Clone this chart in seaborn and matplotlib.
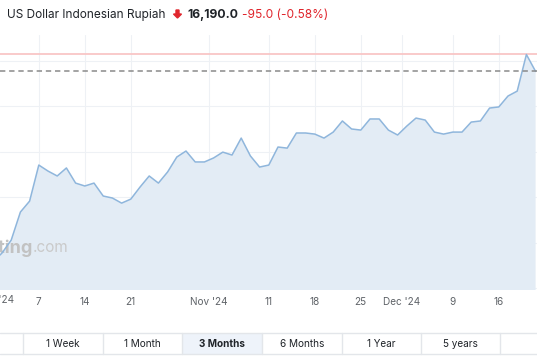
import numpy as np
import pandas as pd
import seaborn as sns
import matplotlib.pyplot as plt
from matplotlib.patches import FancyArrow, Rectangle
from matplotlib.lines import Line2D

# USD/IDR daily close, trading days 30 Sep 2024 .. 20 Dec 2024
dates = pd.bdate_range("2024-09-30", "2024-12-20")
close = [
    15145,                                   # Sep 30
    15193, 15264, 15418, 15478,              # Oct 1-4
    15676, 15643, 15616, 15660, 15577,       # Oct 7-11
    15561, 15577, 15506, 15495, 15467,       # Oct 14-18
    15489, 15555, 15616, 15577, 15638,       # Oct 21-25
    15720, 15753, 15693, 15693, 15715,       # Oct 28 - Nov 1
    15747, 15731, 15824, 15726, 15665,       # Nov 4-8
    15676, 15775, 15769, 15852, 15852,       # Nov 11-15
    15846, 15824, 15857, 15918, 15874,       # Nov 18-22
    15868, 15929, 15929, 15868, 15841,       # Nov 25-29
    15890, 15934, 15923, 15857, 15846,       # Dec 2-6
    15857, 15857, 15912, 15918, 15989,       # Dec 9-13
    15995, 16055, 16082, 16283, 16190,       # Dec 16-20
]
period_high = 16283
last_close = 16190

tick_dates = ["2024-10-01", "2024-10-07", "2024-10-14", "2024-10-21", "2024-11-01",
              "2024-11-11", "2024-11-18", "2024-11-25", "2024-12-02", "2024-12-09",
              "2024-12-16"]
tick_labels = ["Oct '24", "7", "14", "21", "Nov '24", "11", "18", "25", "Dec '24", "9", "16"]
ranges = ["1 Week", "1 Month", "3 Months", "6 Months", "1 Year", "5 years"]

LINE = "#8fb6dc"
FILL = "#e3ecf5"
GRID = "#eef1f5"
RED = "#e0262d"
TEXT = "#1f2328"
MUTED = "#5f6368"

sns.set_theme(style="white")
plt.rcParams["font.family"] = ["Inter", "DejaVu Sans"]

df = pd.DataFrame({"date": dates, "close": close})
df["idx"] = np.arange(len(df)) - 1  # Oct 1 = 0

W, H = 537, 360
fig = plt.figure(figsize=(W / 100, H / 100), dpi=100, facecolor="white")
ax = fig.add_axes([0, (H - 290) / H, 1, (290 - 35) / H])
ax.set_facecolor("white")

ax.fill_between(df["idx"], df["close"], 14990, color=FILL, zorder=1, lw=0)
sns.lineplot(data=df, x="idx", y="close", ax=ax, color=LINE, lw=1.1, zorder=3)

ax.axhline(period_high, color="#f9c6c6", lw=1.3, zorder=2)
ax.axhline(last_close, color="#8a8a8a", lw=1.1, ls=(0, (3.5, 2.5)), zorder=4)

pos = []
for d, lab in zip(tick_dates, tick_labels):
    i = int(df.index[df["date"] == pd.Timestamp(d)][0]) - 1
    pos.append(i - 0.55 if "'" in lab else i)
ax.set_xticks(pos)
ax.set_xticklabels(tick_labels, fontsize=7.2, color=MUTED)
ax.set_yticks(np.arange(15000, 16400, 250))
ax.set_yticklabels([])
ax.tick_params(axis="x", length=0, pad=5)
ax.tick_params(axis="y", length=0)
ax.grid(True, color=GRID, lw=0.8, zorder=0)
ax.set_axisbelow(True)
ax.set_xlim(-2 / 9.2, 535 / 9.2)
ax.set_ylim(14990, 16390)
ax.set_xlabel("")
ax.set_ylabel("")
for s in ax.spines.values():
    s.set_visible(False)

# first month label sits partly outside the plot
fig.text(-3 / W, 1 - 300 / H, tick_labels[0], ha="center", va="center",
         fontsize=7.2, color=MUTED)

# watermark
wy = (290 - 248) / (290 - 35)
ax.text(33 / W, wy, "Investing", transform=ax.transAxes,
        ha="right", va="center", fontsize=13, weight="bold", color="#c2c2c2", zorder=2)
ax.text(33 / W, wy, ".com", transform=ax.transAxes,
        ha="left", va="center", fontsize=11, color="#cacaca", zorder=2)

# header
ty = 1 - 15 / H
fig.text(7 / W, ty, "US Dollar Indonesian Rupiah", fontsize=8.5, color=TEXT, va="center")
fig.patches.append(FancyArrow(177.5 / W, 1 - 10 / H, 0, -8 / H, width=3 / W, head_width=8 / W,
                              head_length=4 / H, length_includes_head=True,
                              color=RED, transform=fig.transFigure, figure=fig))
fig.text(187 / W, ty, "16,190.0", fontsize=8.8, weight="bold", color=TEXT, va="center")
fig.text(242 / W, ty, "-95.0 (-0.58%)", fontsize=8.6, color=RED, va="center")

# range selector
top, bot = 333, 354
fig.patches.append(Rectangle((182 / W, 1 - bot / H), 80 / W, (bot - top) / H,
                             transform=fig.transFigure, facecolor="#eef3fa", edgecolor="none"))
for yy in (top, bot):
    fig.lines.append(Line2D([0, 1], [1 - yy / H] * 2, transform=fig.transFigure,
                            color="#e3e6ea", lw=1))
seps = [23, 103, 182, 262, 342, 421, 500]
for xx in seps:
    fig.lines.append(Line2D([xx / W] * 2, [1 - top / H, 1 - bot / H], transform=fig.transFigure,
                            color="#e3e6ea", lw=1))
for k, lab in enumerate(ranges):
    cx = (seps[k] + seps[k + 1]) / 2
    fig.text(cx / W, 1 - 344 / H, lab, ha="center", va="center", fontsize=7.2,
             color=TEXT, weight="bold" if lab == "3 Months" else "normal")

fig.savefig("out.png", dpi=100, facecolor="white")
